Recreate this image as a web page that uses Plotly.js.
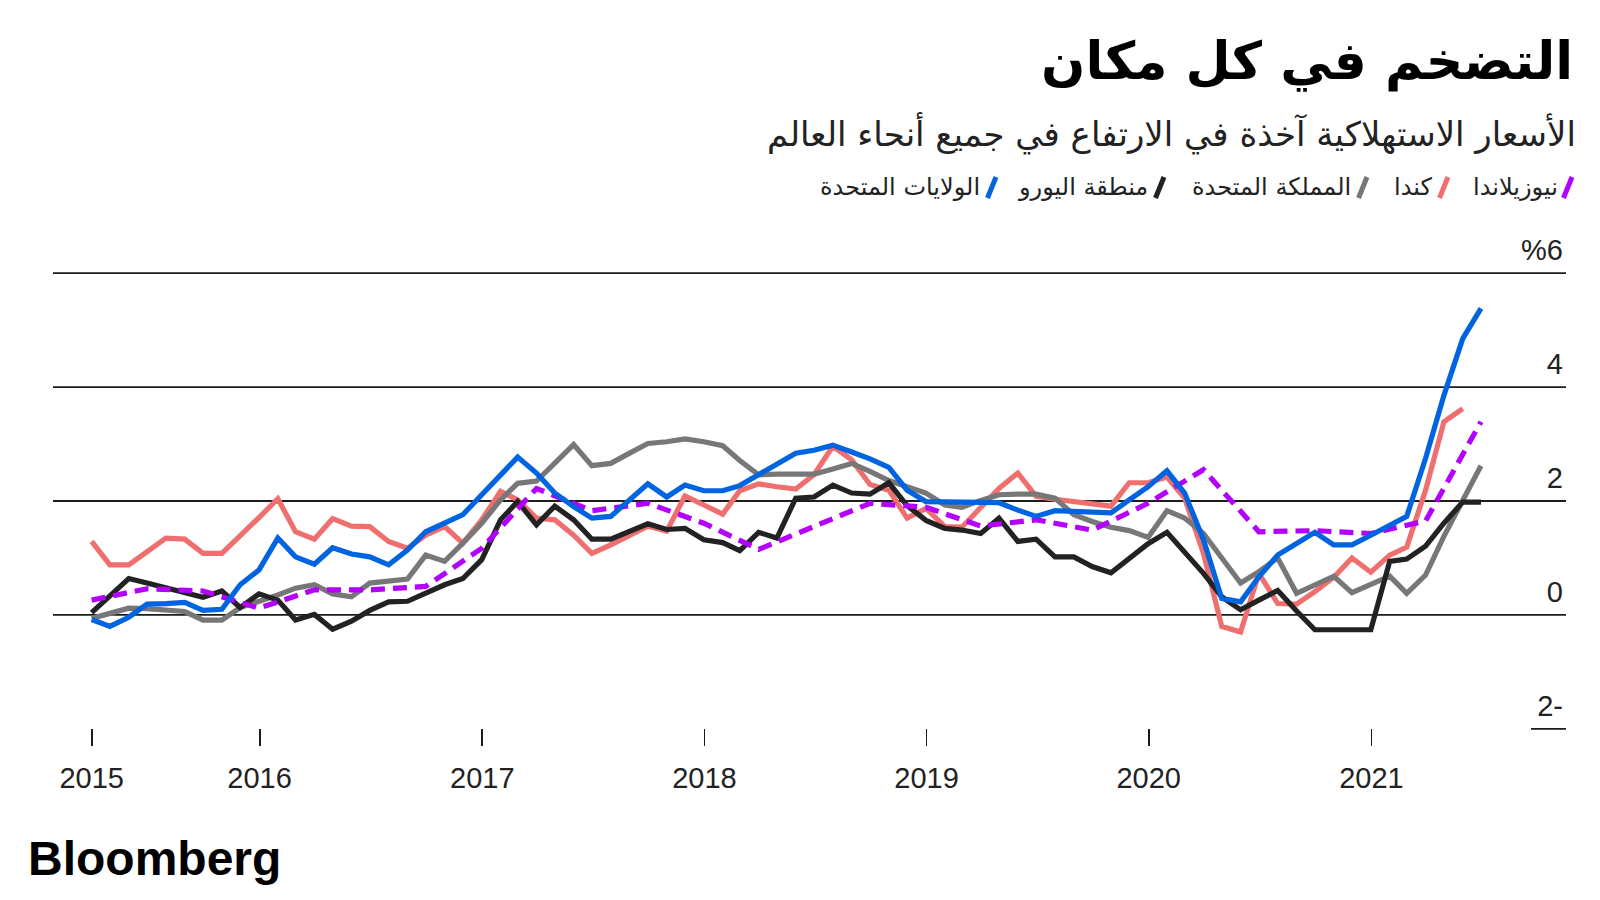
<!DOCTYPE html>
<html>
<head>
<meta charset="utf-8">
<script src="https://cdn.plot.ly/plotly-3.0.1.min.js"></script>
<style>
  html, body { margin: 0; padding: 0; background: #ffffff; }
  #chart { width: 1600px; height: 900px; }
</style>
</head>
<body>
<div id="chart"></div>
<script>
// ---------------- DATA ----------------
// Monthly observations, March 2015 .. June 2021 (year-over-year CPI, %)
const firstYear = 2015;
const firstMonth = 3;           // March
const monthCount = 76;          // Mar 2015 .. Jun 2021

const seriesNames = ['نيوزيلاندا', 'كندا', 'المملكة المتحدة', 'منطقة اليورو', 'الولايات المتحدة'];
const seriesColors = ['#b300ff', '#ef6f6f', '#777777', '#222222', '#0064e1'];

const usValues = [
  -0.08, -0.20, -0.04, 0.19, 0.20, 0.22, 0.08, 0.10, 0.53, 0.79, 1.35, 1.02, 0.89,
  1.18, 1.07, 1.02, 0.88, 1.14, 1.46, 1.61, 1.76, 2.11, 2.46, 2.77, 2.49, 2.14,
  1.90, 1.70, 1.73, 2.02, 2.30, 2.07, 2.28, 2.18, 2.18, 2.27, 2.46, 2.67, 2.84,
  2.89, 2.98, 2.86, 2.74, 2.59, 2.19, 1.99, 1.99, 1.99, 1.99, 1.97, 1.84, 1.73,
  1.83, 1.81, 1.79, 1.79, 2.02, 2.25, 2.53, 2.14, 1.32, 0.29, 0.23, 0.67, 1.05,
  1.26, 1.45, 1.23, 1.23, 1.40, 1.58, 1.73, 2.75, 3.85, 4.85, 5.38
];

const canadaValues = [
  1.29, 0.88, 0.88, 1.12, 1.35, 1.33, 1.08, 1.08, 1.38, 1.71, 2.04, 1.46, 1.33,
  1.69, 1.56, 1.55, 1.29, 1.17, 1.40, 1.55, 1.26, 1.67, 2.17, 2.02, 1.70, 1.67,
  1.40, 1.08, 1.23, 1.39, 1.56, 1.47, 2.09, 1.93, 1.77, 2.18, 2.30, 2.25, 2.21,
  2.46, 2.96, 2.72, 2.29, 2.19, 1.70, 1.87, 1.55, 1.54, 1.90, 2.22, 2.49, 2.08,
  2.03, 1.99, 1.93, 1.91, 2.32, 2.32, 2.42, 2.05, 1.08, -0.20, -0.30, 0.73, 0.20,
  0.19, 0.41, 0.66, 1.00, 0.75, 1.05, 1.19, 2.19, 3.39, 3.62
];

const ukValues = [
  -0.06, 0.03, 0.12, 0.11, 0.09, 0.06, -0.09, -0.09, 0.13, 0.23, 0.35, 0.47, 0.53,
  0.37, 0.32, 0.56, 0.60, 0.63, 1.05, 0.94, 1.26, 1.61, 2.02, 2.31, 2.35, 2.66,
  2.99, 2.62, 2.66, 2.84, 3.01, 3.04, 3.09, 3.04, 2.97, 2.71, 2.46, 2.47, 2.48,
  2.47, 2.56, 2.66, 2.52, 2.36, 2.25, 2.14, 1.93, 1.89, 2.01, 2.11, 2.12, 2.12,
  2.05, 1.76, 1.64, 1.54, 1.48, 1.36, 1.83, 1.70, 1.43, 1.02, 0.56, 0.76, 1.00,
  0.38, 0.53, 0.68, 0.39, 0.53, 0.68, 0.38, 0.70, 1.38, 2.02, 2.62
];

const euroValues = [
  0.04, 0.35, 0.64, 0.56, 0.48, 0.39, 0.31, 0.42, 0.13, 0.37, 0.26, -0.09, 0.01,
  -0.25, -0.11, 0.08, 0.23, 0.24, 0.39, 0.53, 0.64, 0.97, 1.67, 1.99, 1.58, 1.91,
  1.67, 1.33, 1.33, 1.48, 1.60, 1.50, 1.52, 1.32, 1.27, 1.13, 1.45, 1.35, 2.05,
  2.07, 2.28, 2.14, 2.12, 2.32, 1.92, 1.66, 1.52, 1.49, 1.43, 1.70, 1.29, 1.33,
  1.02, 1.02, 0.85, 0.74, 1.00, 1.25, 1.45, 1.11, 0.73, 0.32, 0.09, 0.26, 0.43,
  0.07, -0.26, -0.26, -0.26, -0.26, 0.94, 0.98, 1.21, 1.61, 1.98, 1.98
];

// Quarterly observations, Q1 2015 .. Q2 2021 (plotted at quarter end)
const nzValues = [
  0.26, 0.46, 0.42, 0.12, 0.44, 0.44, 0.50, 1.17, 2.22, 1.83, 1.96, 1.61, 1.15,
  1.56, 1.96, 1.89, 1.56, 1.67, 1.49, 1.96, 2.55, 1.46, 1.48, 1.43, 1.65, 3.39
];

const yearLabels = ['2015', '2016', '2017', '2018', '2019', '2020', '2021'];
const yTickValues = [6, 4, 2, 0, -2];
const yTickLabels = ['%6', '4', '2', '0', '2-'];
const gridValues = [6, 4, 2, 0];

const titleText = 'التضخم في كل مكان';
const subtitleText = 'الأسعار الاستهلاكية آخذة في الارتفاع في جميع أنحاء العالم';
const sourceText = 'Bloomberg';

// ---------------- helpers ----------------
function monthEnd(offset) {
  const d = new Date(Date.UTC(firstYear, firstMonth - 1 + offset + 1, 0));
  return d.toISOString().slice(0, 10);
}
const monthDates = [];
for (let i = 0; i < monthCount; i++) monthDates.push(monthEnd(i));
const quarterDates = [];
for (let q = 0; q < nzValues.length; q++) quarterDates.push(monthEnd(3 * q));

const yearTickVals = yearLabels.map((y, i) => i === 0 ? monthDates[0] : y + '-01-01');

// page geometry
const W = 1600, H = 900;
const M = { l: 53, r: 34, t: 256, b: 154 };
const plotW = W - M.l - M.r, plotH = H - M.t - M.b;
const px = x => (x - M.l) / plotW;          // page px -> paper x
const py = y => (H - M.b - y) / plotH;      // page px -> paper y

const FONT_AR = 'DejaVu Sans, Noto Sans, sans-serif';
const FONT_LAT = 'Liberation Sans, Arial, sans-serif';

// ---------------- traces ----------------
const lineW = 5.2;
const traces = [
  { name: seriesNames[1], x: monthDates.slice(0, canadaValues.length), y: canadaValues, color: seriesColors[1] },
  { name: seriesNames[2], x: monthDates, y: ukValues, color: seriesColors[2] },
  { name: seriesNames[3], x: monthDates, y: euroValues, color: seriesColors[3] },
  { name: seriesNames[0], x: quarterDates, y: nzValues, color: seriesColors[0], dash: '14px,8px' },
  { name: seriesNames[4], x: monthDates, y: usValues, color: seriesColors[4] }
].map(s => ({
  type: 'scatter', mode: 'lines', name: s.name, x: s.x, y: s.y,
  line: { color: s.color, width: lineW, dash: s.dash || 'solid', shape: 'linear' },
  hoverinfo: 'skip', showlegend: false, cliponaxis: false
}));

// ---------------- shapes: gridlines + legend slashes ----------------
const shapes = gridValues.map(v => ({
  type: 'line', xref: 'paper', yref: 'y', x0: 0, x1: 1, y0: v, y1: v,
  line: { color: '#1c1c1c', width: 1.8 }, layer: 'below'
}));
shapes.push({
  type: 'line', xref: 'paper', yref: 'y', x0: px(1531), x1: 1, y0: -2, y1: -2,
  line: { color: '#1c1c1c', width: 1.8 }, layer: 'below'
});

// legend items: right edge of text, slash position (page px)
const legendItems = [
  { label: seriesNames[0], color: seriesColors[0], textRight: 1560, slashX: 1562 },
  { label: seriesNames[1], color: seriesColors[1], textRight: 1435, slashX: 1438 },
  { label: seriesNames[2], color: seriesColors[2], textRight: 1353, slashX: 1357 },
  { label: seriesNames[3], color: seriesColors[3], textRight: 1150, slashX: 1154 },
  { label: seriesNames[4], color: seriesColors[4], textRight: 982, slashX: 986 }
];
const annotations = [];
legendItems.forEach(it => {
  shapes.push({
    type: 'line', xref: 'paper', yref: 'paper',
    x0: px(it.slashX + 1.5), y0: py(198), x1: px(it.slashX + 10), y1: py(177),
    line: { color: it.color, width: 5 }
  });
  annotations.push({
    xref: 'paper', yref: 'paper', x: px(it.textRight), y: py(187),
    xanchor: 'right', yanchor: 'middle', showarrow: false,
    text: it.label, font: { family: FONT_AR, size: 24, color: '#222222' }
  });
});

annotations.push({
  xref: 'paper', yref: 'paper', x: px(1307), y: py(62), xanchor: 'center', yanchor: 'middle',
  showarrow: false, text: '<b>' + titleText + '</b>',
  font: { family: FONT_AR, size: 52, color: '#000000' }
});
annotations.push({
  xref: 'paper', yref: 'paper', x: px(1171), y: py(134), xanchor: 'center', yanchor: 'middle',
  showarrow: false, text: subtitleText,
  font: { family: FONT_AR, size: 34, color: '#222222' }
});
annotations.push({
  xref: 'paper', yref: 'paper', x: px(26), y: py(858), xanchor: 'left', yanchor: 'middle',
  showarrow: false, text: '<b>' + sourceText + '</b>',
  font: { family: FONT_LAT, size: 48, color: '#000000' }
});

// ---------------- layout ----------------
const layout = {
  width: W, height: H,
  margin: M,
  paper_bgcolor: '#ffffff', plot_bgcolor: '#ffffff',
  showlegend: false,
  xaxis: {
    type: 'date',
    range: ['2015-01-26 12:00', '2021-11-16 17:00'],
    tickvals: yearTickVals, ticktext: yearLabels,
    ticks: 'inside', ticklen: 17, tickwidth: 1.8, tickcolor: '#1c1c1c',
    showgrid: false, zeroline: false, showline: false,
    tickfont: { family: FONT_LAT, size: 29, color: '#222222' },
    ticklabelstandoff: 12,
    fixedrange: true
  },
  yaxis: {
    range: [-2.3, 6.3],
    side: 'right',
    tickvals: yTickValues, ticktext: yTickLabels,
    ticks: '', showgrid: false, zeroline: false, showline: false,
    ticklabelposition: 'inside', ticklabelshift: -23, ticklabeloverflow: 'allow',
    tickfont: { family: FONT_LAT, size: 29, color: '#222222' },
    fixedrange: true
  },
  shapes: shapes,
  annotations: annotations
};

Plotly.newPlot('chart', traces, layout, { staticPlot: true, displayModeBar: false });
</script>
</body>
</html>
